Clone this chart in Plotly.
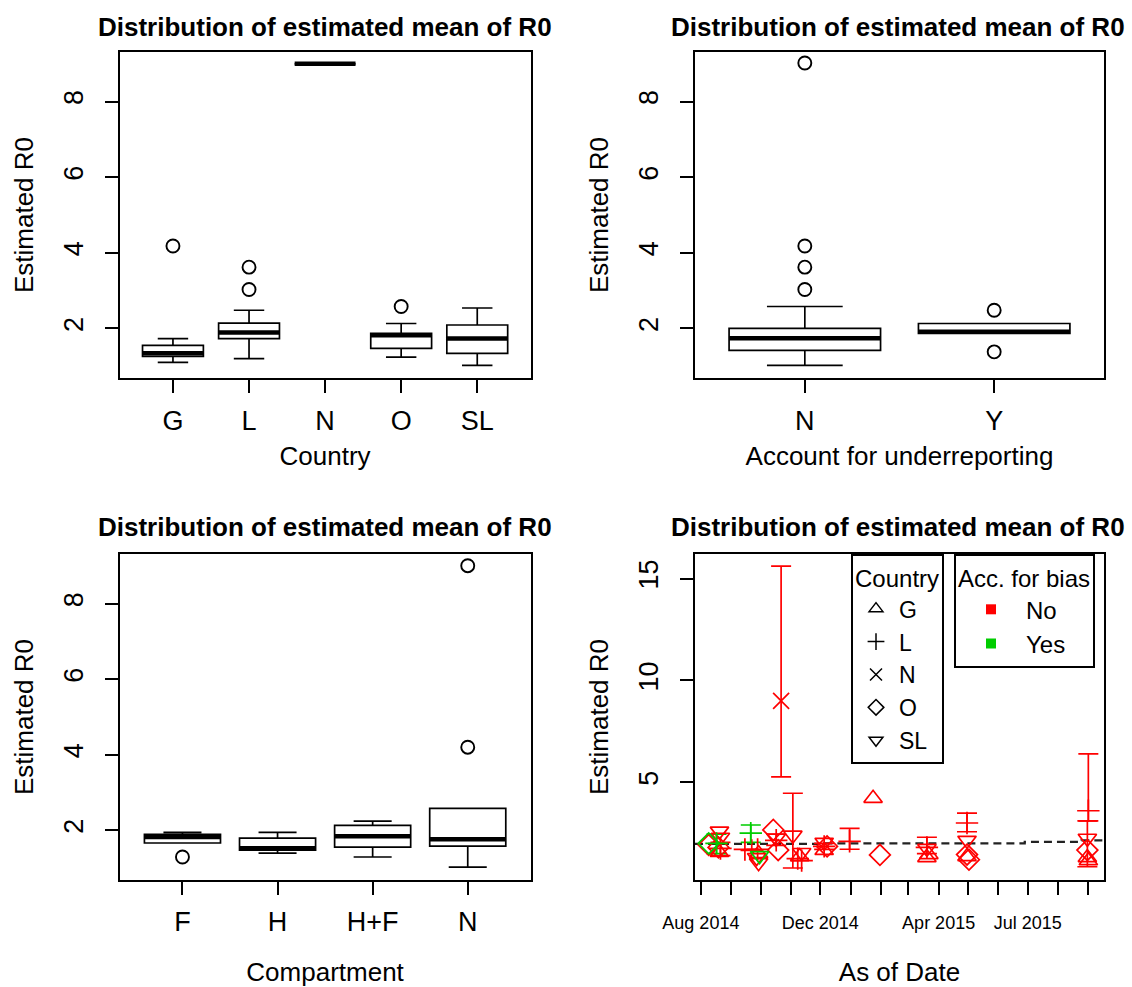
import plotly.graph_objects as go

FONT = "Liberation Sans, Arial, sans-serif"
W, H = 1132, 987

# ---------------- data: panel 1 (Country) ----------------
country_cats = ["G", "L", "N", "O", "SL"]
country_q1 = [1.26, 1.73, 9.0, 1.47, 1.34]
country_med = [1.34, 1.89, 9.0, 1.82, 1.73]
country_q3 = [1.55, 2.14, 9.0, 1.87, 2.09]
country_lo = [1.10, 1.20, 9.0, 1.24, 1.02]
country_hi = [1.73, 2.48, 9.0, 2.13, 2.54]
country_out_cat = ["G", "L", "L", "O"]
country_out_val = [4.18, 3.62, 3.03, 2.58]

# ---------------- data: panel 2 (Account for underreporting) ----------------
under_cats = ["N", "Y"]
under_q1 = [1.42, 1.87]
under_med = [1.74, 1.91]
under_q3 = [2.00, 2.13]
under_lo = [1.02, 1.87]
under_hi = [2.58, 2.13]
under_out_cat = ["N", "N", "N", "N", "Y", "Y"]
under_out_val = [9.02, 4.18, 3.62, 3.03, 2.48, 1.38]

# ---------------- data: panel 3 (Compartment) ----------------
comp_cats = ["F", "H", "H+F", "N"]
comp_q1 = [1.66, 1.47, 1.55, 1.58]
comp_med = [1.82, 1.52, 1.84, 1.76]
comp_q3 = [1.89, 1.79, 2.13, 2.58]
comp_lo = [1.66, 1.39, 1.29, 1.02]
comp_hi = [1.94, 1.94, 2.24, 2.58]
comp_out_cat = ["F", "N", "N"]
comp_out_val = [1.29, 9.01, 4.20]

# ---------------- data: panel 4 (As of Date) ----------------
pt_date = ["2014-08-09", "2014-08-17", "2014-08-09", "2014-08-20", "2014-08-21",
           "2014-08-20", "2014-08-21", "2014-08-19", "2014-09-21", "2014-09-30",
           "2014-09-15", "2014-09-22", "2014-09-28", "2014-09-29", "2014-09-27",
           "2014-09-29", "2014-10-14", "2014-10-19", "2014-10-17", "2014-10-17",
           "2014-10-22", "2014-11-03", "2014-11-08", "2014-11-12", "2014-11-10",
           "2014-11-12", "2014-12-05", "2014-12-05", "2014-12-05", "2014-12-08",
           "2014-12-31", "2015-01-24", "2015-01-31", "2015-03-20", "2015-03-20",
           "2015-03-20", "2015-03-22", "2015-04-30", "2015-04-30", "2015-04-30",
           "2015-05-02", "2015-04-30", "2015-09-01", "2015-08-31", "2015-08-31",
           "2015-08-31", "2015-09-01"]
pt_r0 = [2.00, 2.00, 1.92, 2.60, 2.30,
         1.55, 1.75, 1.80, 2.50, 1.40,
         1.70, 1.65, 1.70, 1.05, 1.30,
         1.50, 2.66, 1.67, 2.15, 2.25,
         9.00, 2.40, 1.25, 1.15, 1.35,
         1.55, 2.05, 1.85, 1.65, 1.85,
         2.10, 4.21, 1.43, 1.80, 1.75,
         1.30, 1.45, 3.00, 2.15, 1.45,
         1.20, 1.35, 3.60, 2.25, 1.67,
         1.30, 1.15]
pt_country = ["O", "L", "O", "SL", "SL",
              "G", "L", "O", "L", "SL",
              "L", "L", "L", "SL", "SL",
              "G", "O", "O", "L", "SL",
              "N", "SL", "L", "L", "G",
              "SL", "SL", "L", "G", "O",
              "L", "G", "O", "L", "SL",
              "G", "G", "L", "SL", "O",
              "O", "G", "L", "SL", "O",
              "G", "G"]
pt_bias = ["Yes", "Yes", "No", "No", "No",
           "No", "No", "No", "Yes", "Yes",
           "No", "No", "No", "No", "No",
           "No", "No", "No", "No", "No",
           "No", "No", "No", "No", "No",
           "No", "No", "No", "No", "No",
           "No", "No", "No", "No", "No",
           "No", "No", "No", "No", "No",
           "No", "No", "No", "No", "No",
           "No", "No"]
pt_lo = [None, 1.50, None, None, None,
         None, 1.40, None, 2.05, None,
         None, None, None, None, None,
         None, None, None, 1.90, None,
         5.26, 0.79, None, None, None,
         None, None, 1.70, None, None,
         1.71, None, None, 1.50, None,
         None, None, 2.57, None, None,
         None, None, 3.10, None, None,
         0.85, None]
pt_hi = [None, 2.45, None, None, None,
         None, 2.05, None, 2.90, None,
         None, None, None, None, None,
         None, None, None, 2.45, None,
         15.61, 4.46, None, None, None,
         None, None, 2.00, None, None,
         2.74, None, None, 2.30, None,
         None, None, 3.48, None, None,
         None, None, 6.39, None, None,
         3.10, None]

ref_dates = ["2014-07-26", "2014-12-01", "2015-06-28", "2015-08-25", "2015-09-17"]
ref_vals = [1.97, 2.00, 2.07, 2.15, 2.15]

date_ticks = ["2014-08-01", "2014-09-01", "2014-10-01", "2014-11-01", "2014-12-01",
              "2015-01-01", "2015-02-01", "2015-03-01", "2015-04-01", "2015-05-01",
              "2015-06-01", "2015-07-01", "2015-08-01", "2015-09-01"]
date_ticktext = ["Aug 2014", "", "", "", "Dec 2014", "", "", "", "Apr 2015",
                 "", "", "Jul 2015", "", ""]

legend_country = ["G", "L", "N", "O", "SL"]
legend_bias = ["No", "Yes"]

# ---------------- styles ----------------
symbols = {"G": "triangle-up-open", "L": "cross-thin-open", "N": "x-thin-open",
           "O": "diamond-open", "SL": "triangle-down-open"}
colors = {"No": "#FF0000", "Yes": "#00CD00"}
BOXW = 0.8

fig = go.Figure()


def add_boxpanel(cats, q1, med, q3, lo, hi, out_cat, out_val, xa, ya):
    pos = list(range(1, len(cats) + 1))
    fig.add_trace(go.Box(
        x=pos, q1=q1, median=med, q3=q3, lowerfence=lo, upperfence=hi,
        width=BOXW, whiskerwidth=0.5, boxpoints=False,
        fillcolor="white", line=dict(color="black", width=1.7),
        xaxis=xa, yaxis=ya, showlegend=False, hoverinfo="skip"))
    mx, my = [], []
    for p, m in zip(pos, med):
        mx += [p - BOXW / 2, p + BOXW / 2, None]
        my += [m, m, None]
    fig.add_trace(go.Scatter(x=mx, y=my, mode="lines",
                             line=dict(color="black", width=4.5),
                             xaxis=xa, yaxis=ya, showlegend=False, hoverinfo="skip"))
    ox = [cats.index(c) + 1 for c in out_cat]
    fig.add_trace(go.Scatter(x=ox, y=out_val, mode="markers",
                             marker=dict(symbol="circle-open", size=13,
                                         color="black", line=dict(width=1.9)),
                             xaxis=xa, yaxis=ya, showlegend=False))


add_boxpanel(country_cats, country_q1, country_med, country_q3, country_lo, country_hi,
             country_out_cat, country_out_val, "x", "y")
add_boxpanel(under_cats, under_q1, under_med, under_q3, under_lo, under_hi,
             under_out_cat, under_out_val, "x2", "y2")
add_boxpanel(comp_cats, comp_q1, comp_med, comp_q3, comp_lo, comp_hi,
             comp_out_cat, comp_out_val, "x3", "y3")

# panel 4: reference dashed line
fig.add_trace(go.Scatter(x=ref_dates, y=ref_vals, mode="lines", line_shape="hv",
                         line=dict(color="#222222", width=2.2, dash="8px,5px"),
                         xaxis="x4", yaxis="y4", showlegend=False, hoverinfo="skip"))

# panel 4: error bars
for b in legend_bias:
    ex, ey, ep, em = [], [], [], []
    for d, v, bb, lo, hi in zip(pt_date, pt_r0, pt_bias, pt_lo, pt_hi):
        if bb == b and lo is not None:
            ex.append(d); ey.append(v); ep.append(hi - v); em.append(v - lo)
    if ex:
        fig.add_trace(go.Scatter(
            x=ex, y=ey, mode="markers", marker=dict(size=1, color="rgba(0,0,0,0)"),
            error_y=dict(type="data", array=ep, arrayminus=em, symmetric=False,
                         color=colors[b], thickness=1.7, width=10),
            xaxis="x4", yaxis="y4", showlegend=False, hoverinfo="skip"))

# panel 4: points
for b in legend_bias:
    for c in legend_country:
        xs = [d for d, cc, bb in zip(pt_date, pt_country, pt_bias) if cc == c and bb == b]
        ys = [v for v, cc, bb in zip(pt_r0, pt_country, pt_bias) if cc == c and bb == b]
        if not xs:
            continue
        fig.add_trace(go.Scatter(
            x=xs, y=ys, mode="markers",
            marker=dict(symbol=symbols[c], size=16, color=colors[b],
                        line=dict(width=1.7, color=colors[b])),
            xaxis="x4", yaxis="y4", showlegend=False))

# legends (keys only)
for c in legend_country:
    fig.add_trace(go.Scatter(x=[None], y=[None], mode="markers", name=c,
                             marker=dict(symbol=symbols[c], size=12, color="black",
                                         line=dict(width=1.5, color="black")),
                             xaxis="x4", yaxis="y4", legend="legend"))
for b in legend_bias:
    fig.add_trace(go.Scatter(x=[None], y=[None], mode="markers", name=b,
                             marker=dict(symbol="square", size=10, color=colors[b]),
                             xaxis="x4", yaxis="y4", legend="legend2"))

# ---------------- layout ----------------
def dx(a, b):
    return [a / W, b / W]


def dy(top, bottom):
    return [1 - bottom / H, 1 - top / H]


axis_common = dict(showline=True, mirror=True, linecolor="black", linewidth=2,
                   ticks="outside", ticklen=13, tickwidth=2, tickcolor="black",
                   showgrid=False, zeroline=False, automargin=False,
                   tickfont=dict(family=FONT, size=27, color="black"))
title_font = dict(family=FONT, size=26, color="black")


def cat_xaxis(cats, domain, title, standoff):
    n = len(cats)
    ext = 0.04 * n
    return dict(axis_common, domain=domain, range=[0.5 - ext, n + 0.5 + ext],
                tickmode="array", tickvals=list(range(1, n + 1)), ticktext=cats,
                ticklabelstandoff=4,
                title=dict(text=title, font=title_font, standoff=standoff))


def r0_yaxis(domain, anchor, rng, tickvals):
    return dict(axis_common, domain=domain, anchor=anchor, range=rng,
                tickmode="array", tickvals=tickvals, tickangle=-90,
                ticklabelstandoff=11,
                title=dict(text="Estimated R0", font=title_font, standoff=18))


top = dy(51.7, 378.3)
bot = dy(554, 880)
left = dx(119.7, 530.5)
right = dx(695, 1104)

fig.update_layout(
    width=W, height=H, margin=dict(l=0, r=0, t=0, b=0, autoexpand=False),
    paper_bgcolor="white", plot_bgcolor="white",
    font=dict(family=FONT, color="black"),
    xaxis=dict(cat_xaxis(country_cats, left, "Country", 12), anchor="y"),
    yaxis=r0_yaxis(top, "x", [0.68, 9.32], [2, 4, 6, 8]),
    xaxis2=dict(cat_xaxis(under_cats, right, "Account for underreporting", 12), anchor="y2"),
    yaxis2=r0_yaxis(top, "x2", [0.68, 9.32], [2, 4, 6, 8]),
    xaxis3=dict(cat_xaxis(comp_cats, left, "Compartment", 28), anchor="y3"),
    yaxis3=r0_yaxis(bot, "x3", [0.68, 9.32], [2, 4, 6, 8]),
    xaxis4=dict(axis_common, domain=right, anchor="y4", type="date",
                range=["2014-07-26", "2015-09-17"],
                tickmode="array", tickvals=date_ticks, ticktext=date_ticktext,
                tickfont=dict(family=FONT, size=18, color="black"),
                ticklabelstandoff=12,
                title=dict(text="As of Date", font=title_font, standoff=37)),
    yaxis4=r0_yaxis(bot, "x4", [0.2, 16.21], [5, 10, 15]),
    legend=dict(x=851 / W, y=1 - 554 / H, xanchor="left", yanchor="top",
                bgcolor="white", bordercolor="black", borderwidth=2,
                font=dict(family=FONT, size=23, color="black"),
                title=dict(text="Country", font=dict(family=FONT, size=24), side="top"),
                itemwidth=36, tracegroupgap=0),
    legend2=dict(x=954 / W, y=1 - 554 / H, xanchor="left", yanchor="top",
                 bgcolor="white", bordercolor="black", borderwidth=2,
                 font=dict(family=FONT, size=24, color="black"),
                 title=dict(text="Acc. for bias", font=dict(family=FONT, size=24), side="top"),
                 itemwidth=60, tracegroupgap=0),
)

titles = [((119.7 + 530.5) / 2, 27), ((695 + 1104) / 2 - 2, 27),
          ((119.7 + 530.5) / 2, 527), ((695 + 1104) / 2 - 2, 527)]
for cx, cy in titles:
    fig.add_annotation(text="Distribution of estimated mean of R0", x=cx / W, y=1 - cy / H,
                       xref="paper", yref="paper", xanchor="center", yanchor="middle",
                       showarrow=False,
                       font=dict(family=FONT, size=26, color="black", weight="bold"))

fig.write_html("out.html", config={"displayModeBar": False},
               post_script="document.body.style.margin='0';")
